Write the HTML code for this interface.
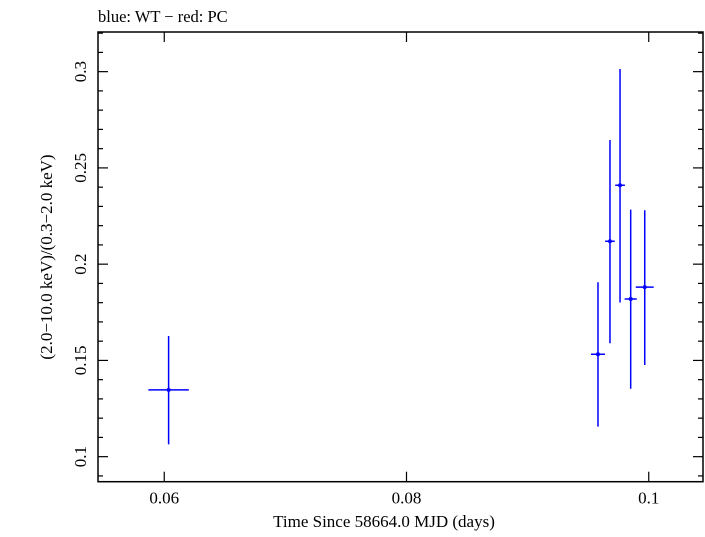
<!DOCTYPE html>
<html><head><meta charset="utf-8"><style>
body{margin:0;background:#fff}
svg text{font-family:"Liberation Serif",serif;fill:#000}
</style></head><body>
<svg width="705" height="532">
<text x="98" y="22" font-size="16.5">blue: WT − red: PC</text>
<g id="axes"></g>
<g id="series"></g>
<rect x="98" y="32" width="605" height="449.7" fill="none" stroke="#000" stroke-width="1.5"/>
<text x="384" y="527" font-size="17" text-anchor="middle">Time Since 58664.0 MJD (days)</text>
<text transform="translate(52,257) rotate(-90)" font-size="17" text-anchor="middle">(2.0−10.0 keV)/(0.3−2.0 keV)</text>
</svg>
<script>
const xTicks=[0.06,0.08,0.1];
const xTickLabels=["0.06","0.08","0.1"];
const yTicks=[0.1,0.15,0.2,0.25,0.3];
const yTickLabels=["0.1","0.15","0.2","0.25","0.3"];
const times=[0.06036,0.09581,0.09680,0.09763,0.09851,0.09967];
const timeErr=[0.00167,0.00058,0.0004,0.0004,0.0005,0.00074];
const ratios=[0.1347,0.1532,0.2119,0.2410,0.1819,0.1881];
const ratioHi=[0.1627,0.1906,0.2645,0.3014,0.2283,0.2280];
const ratioLo=[0.1064,0.1156,0.1589,0.1801,0.1353,0.1476];
const L=98,R=703,T=32,B=481.7;
const xMin=0.05453,xMax=0.10448,yMin=0.0870,yMax=0.3206;
const X=v=>L+(v-xMin)/(xMax-xMin)*(R-L);
const Y=v=>B-(v-yMin)/(yMax-yMin)*(B-T);
const NS="http://www.w3.org/2000/svg";
function mk(tag,at,parent){const e=document.createElementNS(NS,tag);for(const k in at)e.setAttribute(k,at[k]);parent.appendChild(e);return e;}
const ax=document.getElementById('axes');
xTicks.forEach((t,i)=>{
 const x=X(t);
 const a=mk('line',{x1:x,x2:x,y1:B,y2:B-10,stroke:'#000','stroke-width':1.2},ax);
 
 
 const b=mk('line',{x1:x,x2:x,y1:T,y2:T+10,stroke:'#000','stroke-width':1.2},ax);
 
 
 const tx=mk('text',{x:x,y:B+22,'font-size':17,'text-anchor':'middle'},ax);
 tx.textContent=xTickLabels[i];
 
 
});
for(let k=9;k<=32;k++){
 const v=k/100;const y=Y(v);const major=(k%5===0);const len=major?10:5;
 const a=mk('line',{x1:L,x2:L+len,y1:y,y2:y,stroke:'#000','stroke-width':1.2},ax);
 
 
 const b=mk('line',{x1:R,x2:R-len,y1:y,y2:y,stroke:'#000','stroke-width':1.2},ax);
 
 
}
yTicks.forEach((t,i)=>{
 const y=Y(t);
 const tx=mk('text',{transform:`translate(86,${y}) rotate(-90)`,'font-size':17,'text-anchor':'middle'},ax);
 tx.textContent=yTickLabels[i];
 
 
});
const sg=document.getElementById('series');
times.forEach((t,i)=>{
 const g=mk('g',{stroke:'#0000ff','stroke-width':1.5},sg);
 
 
 mk('line',{x1:X(t),x2:X(t),y1:Y(ratioHi[i]),y2:Y(ratioLo[i])},g);
 mk('line',{x1:X(t-timeErr[i]),x2:X(t+timeErr[i]),y1:Y(ratios[i]),y2:Y(ratios[i])},g);
 mk('circle',{cx:X(t),cy:Y(ratios[i]),r:2,fill:'#0000ff',stroke:'none'},g);
});
</script>
</body></html>
